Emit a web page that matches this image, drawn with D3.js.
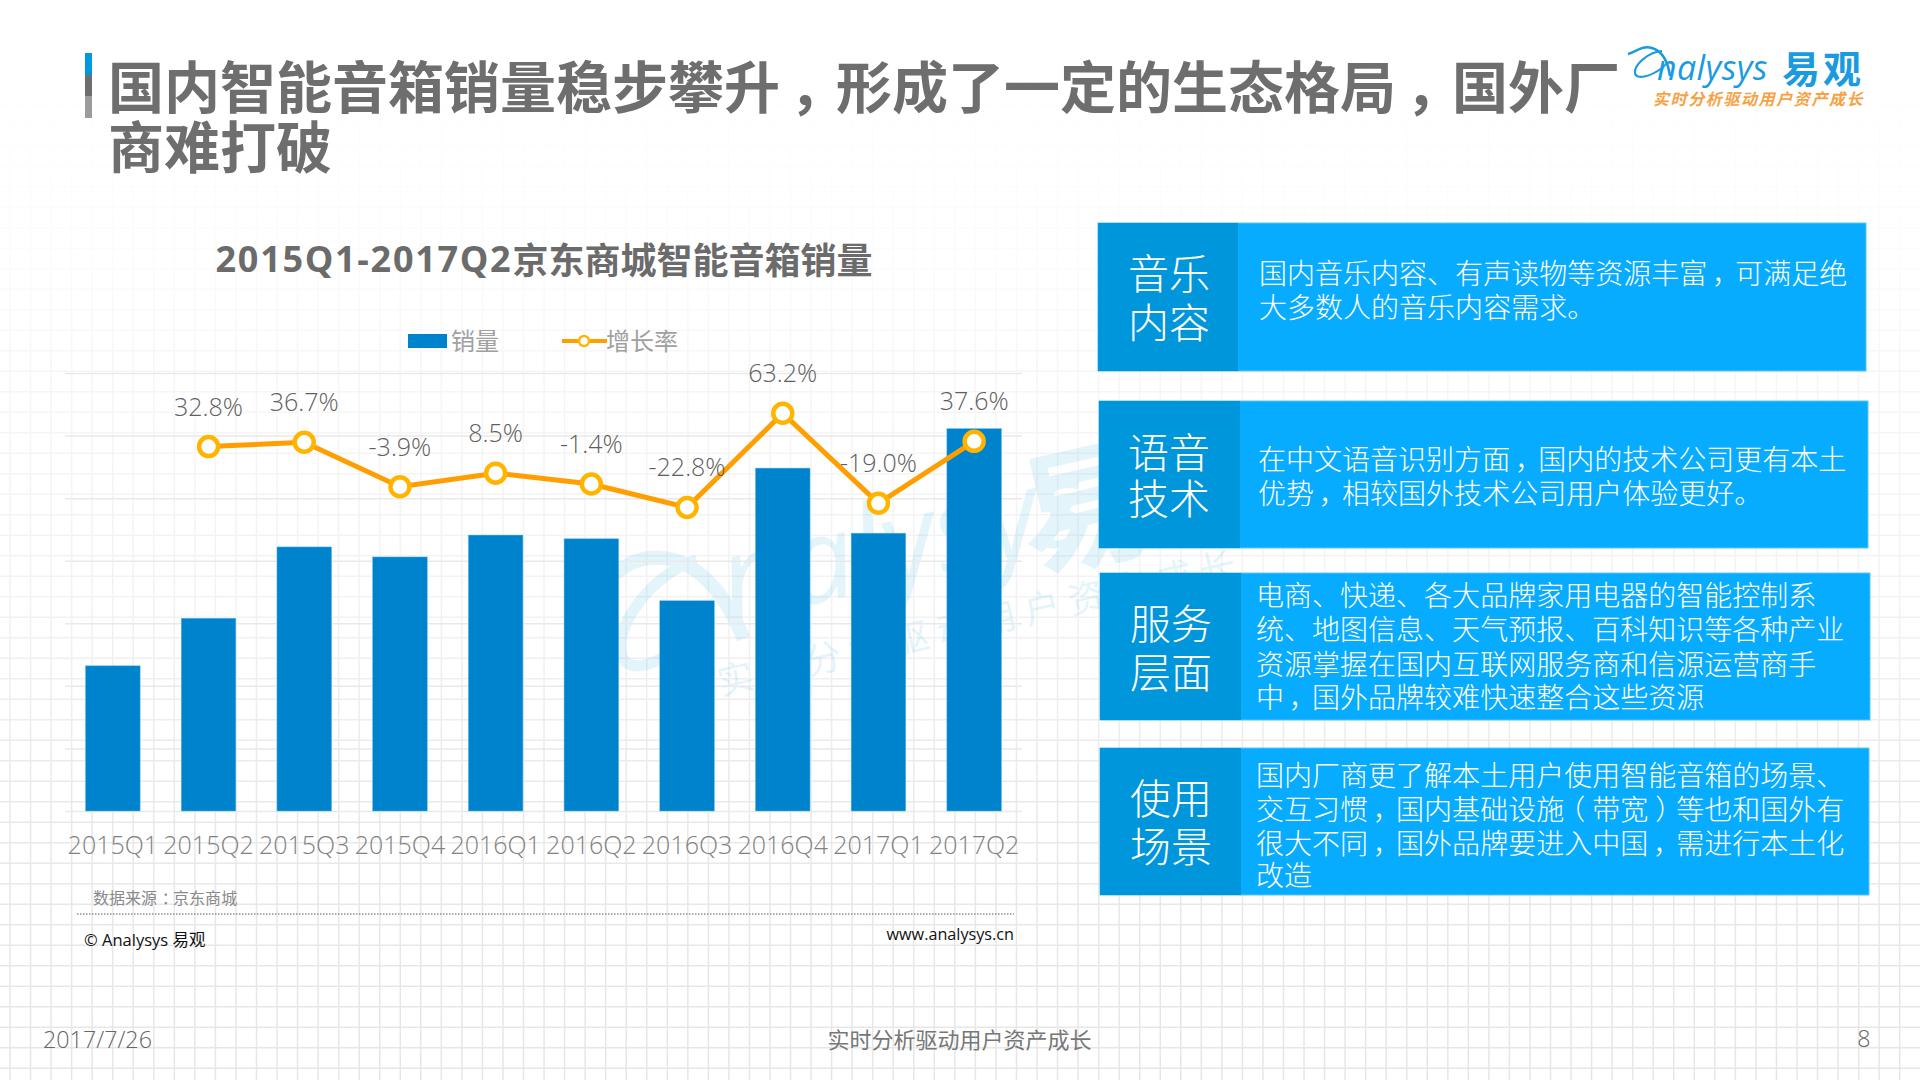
<!DOCTYPE html>
<html>
<head>
<meta charset="utf-8">
<script src="https://cdnjs.cloudflare.com/ajax/libs/d3/7.8.5/d3.min.js"></script>
<style>
  html, body { margin: 0; padding: 0; background: #fff; }
  svg { display: block; }
  text { font-family: "Open Sans", "Noto Sans CJK SC", sans-serif; }
  .cjk { font-family: "Noto Sans CJK SC", sans-serif; }
</style>
</head>
<body>
<div id="svg-container"></div>
<script>
// data
const quarters = ["2015Q1", "2015Q2", "2015Q3", "2015Q4", "2016Q1", "2016Q2", "2016Q3", "2016Q4", "2017Q1", "2017Q2"];
const sales = [23.2, 30.8, 42.2, 40.6, 44.1, 43.5, 33.6, 54.8, 44.4, 61.1]; // no axis in the source, read as relative heights
const growth = [null, 32.8, 36.7, -3.9, 8.5, -1.4, -22.8, 63.2, -19.0, 37.6];
const salesTicks = [0, 10, 20, 30, 40, 50, 60, 70];

const panelHeads = [["音乐", "内容"], ["语音", "技术"], ["服务", "层面"], ["使用", "场景"]];
const panelLines = [
  ["国内音乐内容、有声读物等资源丰富，可满足绝", "大多数人的音乐内容需求。"],
  ["在中文语音识别方面，国内的技术公司更有本土", "优势，相较国外技术公司用户体验更好。"],
  ["电商、快递、各大品牌家用电器的智能控制系", "统、地图信息、天气预报、百科知识等各种产业", "资源掌握在国内互联网服务商和信源运营商手", "中，国外品牌较难快速整合这些资源"],
  ["国内厂商更了解本土用户使用智能音箱的场景、", "交互习惯，国内基础设施（带宽）等也和国外有", "很大不同，国外品牌要进入中国，需进行本土化", "改造"],
];
const titleLines = ["国内智能音箱销量稳步攀升，形成了一定的生态格局，国外厂", "商难打破"];

// layout
const panelBoxes = [
  { x: 1098, y: 223, w: 768, h: 148, split: 140, headX: 71, headY: [48, 97], textX: 161, textY: [49, 83] },
  { x: 1099, y: 401, w: 769, h: 147, split: 141, headX: 70, headY: [49, 95], textX: 159, textY: [57, 91] },
  { x: 1100, y: 573, w: 770, h: 147, split: 141, headX: 71, headY: [48, 97], textX: 156, textY: [21, 55, 89.5, 123] },
  { x: 1100, y: 748, w: 769, h: 147, split: 141, headX: 71, headY: [48, 96], textX: 156, textY: [26, 60, 94, 126] },
];
const plot = { left: 65, right: 1022, top: 373, bottom: 811 };

////////////////////////////////////////////////////////////////////
////////////////////////////  Init  ///////////////////////////////
const svg = d3.select("#svg-container").append("svg")
  .attr("width", 1920).attr("height", 1080).attr("viewBox", "0 0 1920 1080");

// the source font centres these marks, so move the glyph and pull the next one back
const punctShift = { "，": 0.17, "：": 0.3, "（": -0.25, "）": 0.25 };
const punctDx = (str, size) => {
  const chars = [...str];
  return chars.map((c, i) => {
    const own = punctShift[c] || 0;
    const prev = punctShift[chars[i - 1]] || 0;
    return (own - prev) * size;
  }).join(" ");
};

const addText = (parent, str, x, y, size, fill, extra = {}) => {
  const t = parent.append("text")
    .attr("x", x).attr("y", y)
    .attr("font-size", size).attr("fill", fill)
    .attr("dominant-baseline", "central")
    .text(str);
  Object.entries(extra).forEach(([k, v]) => t.attr(k, v));
  return t;
};

////////////////////////////////////////////////////////////////////
////////////////////////////  Background  //////////////////////////
const defs = svg.append("defs");
const gridGrad = defs.append("linearGradient").attr("id", "gridGrad")
  .attr("gradientUnits", "userSpaceOnUse")
  .attr("x1", 0).attr("y1", 0).attr("x2", 0).attr("y2", 1080);
[[0, "#ffffff"], [0.15, "#fdfdfd"], [0.25, "#fbfbfb"], [0.34, "#f6f6f6"], [0.56, "#f2f2f2"], [0.74, "#e9e9e9"], [1, "#e6e6e6"]]
  .forEach(([o, c]) => gridGrad.append("stop").attr("offset", o).attr("stop-color", c));

const bg = svg.append("g").attr("stroke", "url(#gridGrad)").attr("stroke-width", 1.5);
bg.selectAll(".v").data(d3.range(10, 1920, 20.54)).enter().append("line")
  .attr("x1", (d) => d).attr("x2", (d) => d + 0.01).attr("y1", 0).attr("y2", 1080);
bg.selectAll(".h").data(d3.range(2.2, 1080, 20.5)).enter().append("line")
  .attr("x1", 0).attr("x2", 1920).attr("y1", (d) => d).attr("y2", (d) => d + 0.01);

// swirl of the logo, local units are px of the small logo
const swirl = (g, color, w) => {
  g.append("path").attr("d", "M28 24 C36 22 42 15 52 18 C62 21 68 32 70 46")
    .attr("fill", "none").attr("stroke", color).attr("stroke-width", w);
  g.append("path").attr("d", "M62 21 C48 22 34 35 35 43 C36 50 50 47 62 38")
    .attr("fill", "none").attr("stroke", color).attr("stroke-width", w * 0.8);
};

// watermark
const wm = svg.append("g").attr("opacity", 0.1).attr("transform", "rotate(-13 840 590)");
swirl(wm.append("g").attr("transform", "translate(490,455) scale(3.5)"), "#0098dc", 4);
addText(wm, "nalysys", 725, 552, 118, "#0098dc", { "font-style": "italic", "font-weight": 400 });
addText(wm, "易观", 1030, 555, 135, "#0098dc", { class: "cjk", "font-weight": 700 });
addText(wm, "实时分析驱动用户资产成长", 700, 650, 36, "#0098dc", { class: "cjk", "letter-spacing": 9 });

////////////////////////////////////////////////////////////////////
////////////////////////////  Header  //////////////////////////////
[[53, 22, "#0098e0"], [75, 21, "#6e6e6e"], [96, 22, "#9c9c9c"]].forEach(([y, h, c]) =>
  svg.append("rect").attr("x", 85).attr("y", y).attr("width", 7).attr("height", h).attr("fill", c));

titleLines.forEach((line, i) => {
  addText(svg, line, 108, 83 + i * 60, 56, "#6e6e6e", { class: "cjk", "font-weight": 700, dx: punctDx(line, 56) });
});

// logo
const logo = svg.append("g").attr("transform", "translate(1600,30)");
swirl(logo, "#1a9be0", 2.6);
addText(logo, "nalysys", 57, 37, 34, "#1a9be0", { "font-style": "italic", "letter-spacing": 0.4 });
addText(logo, "易观", 182, 36, 38, "#1a9be0", { class: "cjk", "font-weight": 700, "letter-spacing": 3 });
addText(logo, "实时分析驱动用户资产成长", 53, 68, 16, "#f7a144", { class: "cjk", "font-weight": 700, "letter-spacing": 1.6, "font-style": "italic" });

////////////////////////////////////////////////////////////////////
////////////////////////////  Chart  ///////////////////////////////
const chartTitle = addText(svg, "", 544, 258, 36, "#6b6b6b", { "text-anchor": "middle", "font-weight": 700 });
chartTitle.append("tspan").attr("letter-spacing", 1.7).text("2015Q1-2017Q2");
chartTitle.append("tspan").attr("class", "cjk").text("京东商城智能音箱销量");

// scale
const xScale = d3.scaleBand().domain(quarters).range([plot.left, plot.right])
  .paddingInner(0.43).paddingOuter(0.215);
const yScale = d3.scaleLinear().domain([0, 70]).range([plot.bottom, plot.top]);
const growthScale = d3.scaleLinear().domain([-300, 100]).range([plot.bottom, plot.top]);
const cx = (d) => xScale(d) + xScale.bandwidth() / 2;

// grid
const gridG = svg.append("g").attr("transform", `translate(${plot.left},0)`)
  .call(d3.axisLeft(yScale).tickValues(salesTicks).tickSize(-(plot.right - plot.left)).tickFormat(""));
gridG.select(".domain").remove();
gridG.selectAll("line").attr("stroke", "#e9e9e9").attr("stroke-width", 1.5);

// bars
svg.append("g").selectAll("rect").data(sales).enter().append("rect")
  .attr("x", (d, i) => xScale(quarters[i]))
  .attr("y", (d) => yScale(d))
  .attr("width", xScale.bandwidth())
  .attr("height", (d) => plot.bottom - yScale(d))
  .attr("fill", "#0083cd")
  .attr("stroke", "#5ab4e6").attr("stroke-width", 0.5);

// x axis
const xAxis = svg.append("g").attr("transform", `translate(0,${plot.bottom})`)
  .call(d3.axisBottom(xScale).tickSize(0).tickPadding(25));
xAxis.select(".domain").remove();
xAxis.selectAll("text").attr("font-size", 25).attr("fill", "#828282")
  .attr("font-weight", 300).attr("font-family", '"Open Sans", sans-serif');

// line
const points = quarters.map((q, i) => ({ q, v: growth[i] })).filter((d) => d.v !== null);
const lineGen = d3.line().x((d) => cx(d.q)).y((d) => growthScale(d.v));
svg.append("path").datum(points).attr("d", lineGen)
  .attr("fill", "none").attr("stroke", "#ff9e00").attr("stroke-width", 5);
svg.append("g").selectAll("circle").data(points).enter().append("circle")
  .attr("cx", (d) => cx(d.q)).attr("cy", (d) => growthScale(d.v))
  .attr("r", 9.5).attr("fill", "#fff").attr("stroke", "#ffb400").attr("stroke-width", 4.5);
svg.append("g").selectAll("text").data(points).enter().append("text")
  .attr("x", (d) => cx(d.q)).attr("y", (d) => growthScale(d.v) - 41)
  .attr("text-anchor", "middle").attr("dominant-baseline", "central")
  .attr("font-size", 25).attr("fill", "#5f5f5f").attr("font-weight", 300)
  .text((d) => d.v.toFixed(1) + "%");

// legend
svg.append("rect").attr("x", 408).attr("y", 334).attr("width", 39).attr("height", 14).attr("fill", "#0083cd");
addText(svg, "销量", 451, 339, 24, "#a0a0a0", { class: "cjk" });
svg.append("line").attr("x1", 562).attr("x2", 607).attr("y1", 341).attr("y2", 341)
  .attr("stroke", "#ff9e00").attr("stroke-width", 4);
svg.append("circle").attr("cx", 584).attr("cy", 341).attr("r", 5)
  .attr("fill", "#fff").attr("stroke", "#ffb400").attr("stroke-width", 2.5);
addText(svg, "增长率", 606, 339, 24, "#a0a0a0", { class: "cjk" });

// source
const sourceText = "数据来源：京东商城";
addText(svg, sourceText, 93, 897, 16, "#8a8a8a", { class: "cjk", dx: punctDx(sourceText, 16) });
svg.append("line").attr("x1", 77).attr("x2", 1014).attr("y1", 914).attr("y2", 914)
  .attr("stroke", "#8f8f8f").attr("stroke-width", 1.5).attr("stroke-dasharray", "1.5 1.5");
addText(svg, "© Analysys 易观", 84, 939, 16.5, "#111");
addText(svg, "www.analysys.cn", 1014, 934, 16.2, "#111", { "text-anchor": "end" });

////////////////////////////////////////////////////////////////////
////////////////////////////  Panels  //////////////////////////////
panelBoxes.forEach((b, i) => {
  const g = svg.append("g").attr("transform", `translate(${b.x},${b.y})`);
  g.append("rect").attr("width", b.w).attr("height", b.h).attr("fill", "#07acff")
    .attr("stroke", "#5cc5f5").attr("stroke-width", 1);
  g.append("rect").attr("width", b.split).attr("height", b.h).attr("fill", "#0096dc");
  panelHeads[i].forEach((h, j) => {
    addText(g, h, b.headX, b.headY[j], 41, "#fff", { class: "cjk", "text-anchor": "middle", "font-weight": 300 });
  });
  panelLines[i].forEach((l, j) => {
    addText(g, l, b.textX, b.textY[j], 28, "#fff", { class: "cjk", "font-weight": 300, dx: punctDx(l, 28) });
  });
});

////////////////////////////////////////////////////////////////////
////////////////////////////  Footer  //////////////////////////////
addText(svg, "2017/7/26", 43, 1039, 23.3, "#666", { "font-weight": 300 });
addText(svg, "实时分析驱动用户资产成长", 959.5, 1038, 22, "#777", { class: "cjk", "text-anchor": "middle" });
addText(svg, "8", 1864, 1038, 23.3, "#666", { "text-anchor": "middle", "font-weight": 300 });
</script>
</body>
</html>
